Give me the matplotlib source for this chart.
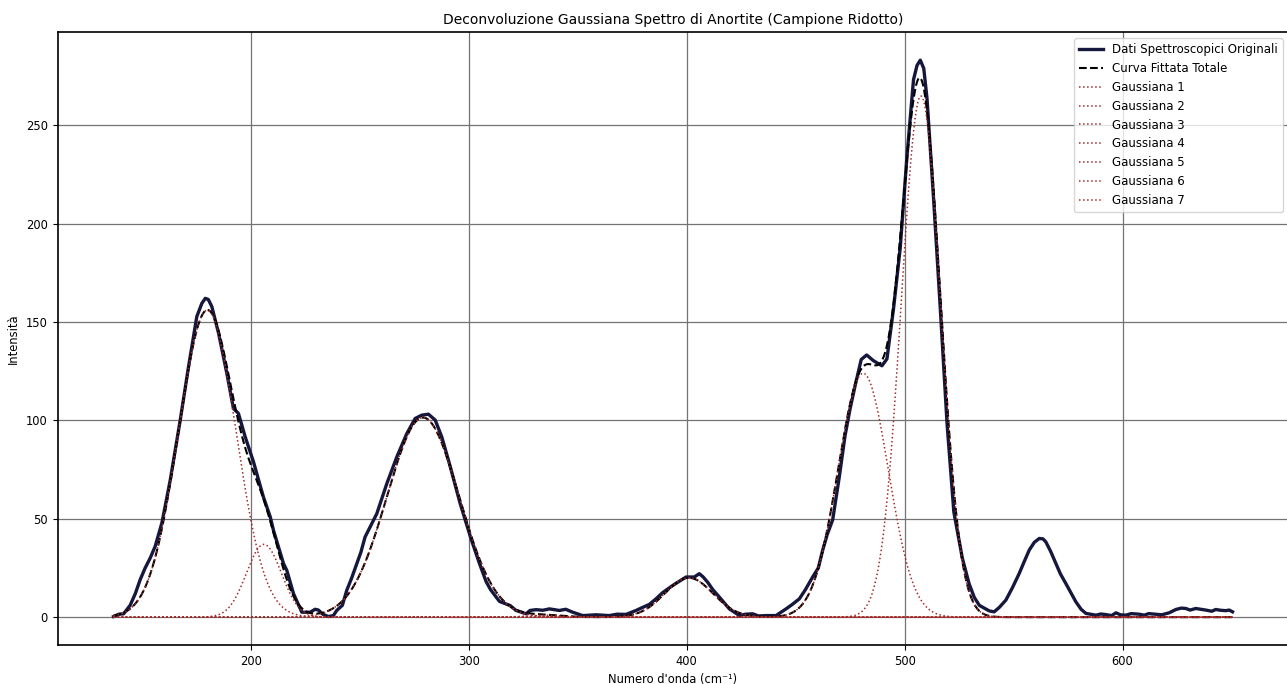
import numpy as np
import matplotlib
matplotlib.use("Agg")
import matplotlib.pyplot as plt

# Spectrum (cm^-1, intensity)
wavenumber = [
    137.0, 139.5, 141.6, 144.6, 147.0, 149.2, 151.5, 153.8, 156.1, 159.2,
    163.0, 167.6, 171.4, 175.2, 177.5, 179.1, 180.5, 182.1, 185.2, 189.0,
    192.0, 194.3, 197.4, 201.2, 205.8, 208.9, 210.4, 215.0, 216.5, 219.6,
    223.4, 227.2, 229.5, 231.0, 233.0, 235.6, 237.9, 239.4, 242.0, 244.0,
    246.3, 248.6, 250.5, 252.4, 255.5, 257.8, 262.4, 267.0, 271.6, 275.4,
    278.4, 281.5, 284.6, 287.6, 291.4, 296.0, 301.0, 305.0, 308.0, 310.0,
    314.1, 319.0, 321.7, 326.3, 328.1, 330.9, 334.0, 337.0, 341.6, 344.5,
    347.7, 352.3, 358.4, 364.5, 368.0, 372.2, 376.8, 378.3, 382.9, 385.9,
    389.0, 393.6, 397.0, 399.7, 403.5, 405.8, 407.5, 409.6, 412.0, 415.0,
    419.6, 424.2, 427.0, 430.3, 433.0, 436.4, 441.0, 445.6, 448.5, 451.7,
    454.5, 457.8, 460.4, 462.4, 464.5, 467.0, 470.0, 472.7, 475.0, 477.3,
    480.1, 482.6, 485.7, 489.6, 491.9, 494.9, 498.0, 501.1, 504.1, 505.7,
    507.2, 508.8, 510.3, 513.4, 516.4, 519.5, 522.6, 526.5, 529.6, 532.0,
    534.3, 538.8, 541.1, 543.5, 546.5, 549.5, 552.6, 555.0, 557.2, 559.5,
    561.8, 563.5, 564.8, 567.0, 569.4, 571.5, 574.0, 576.5, 578.6, 581.0,
    583.2, 587.8, 590.0, 592.4, 595.0, 597.0, 599.0, 601.5, 604.0, 607.6,
    610.0, 612.0, 615.3, 618.0, 621.4, 624.5, 627.0, 629.1, 631.0, 633.6,
    636.0, 638.2, 641.0, 642.8, 645.0, 647.4, 649.0, 650.5,
]
intensity = [
    0.3, 1.5, 1.7, 6.0, 12.0, 19.0, 25.0, 30.0, 36.0, 48.0,
    69.6, 100.2, 127.3, 152.8, 159.5, 162.1, 161.5, 157.9, 144.3, 123.9,
    106.1, 103.6, 91.7, 79.0, 61.0, 51.0, 44.1, 27.2, 23.8, 11.9,
    2.5, 2.5, 4.0, 3.6, 1.5, 0.3, 0.8, 3.4, 6.0, 13.6,
    20.0, 27.2, 33.0, 40.7, 47.5, 52.6, 67.9, 81.5, 93.4, 101.0,
    102.7, 103.2, 100.2, 91.7, 77.0, 58.0, 40.0, 27.0, 18.0, 14.0,
    8.0, 5.9, 3.4, 1.7, 3.4, 3.8, 3.5, 4.2, 3.4, 4.0,
    2.5, 0.8, 1.2, 0.8, 1.5, 1.4, 3.4, 4.2, 6.5, 9.3,
    12.5, 16.1, 18.5, 20.4, 20.4, 22.1, 20.5, 17.8, 14.0, 10.2,
    4.2, 0.8, 1.5, 1.7, 0.6, 0.8, 0.8, 4.2, 6.5, 9.3,
    14.0, 20.4, 25.0, 34.0, 42.0, 49.5, 71.0, 92.4, 106.0, 117.7,
    131.0, 133.3, 130.4, 127.8, 131.3, 156.6, 187.7, 234.4, 273.3, 280.5,
    283.2, 279.0, 263.6, 211.0, 156.6, 98.2, 53.5, 30.0, 17.0, 10.0,
    6.0, 3.2, 2.7, 5.0, 8.7, 15.0, 22.2, 28.5, 34.1, 38.0,
    40.0, 39.8, 38.3, 33.5, 27.3, 22.0, 17.1, 12.0, 7.8, 4.0,
    1.9, 1.0, 1.6, 1.3, 0.8, 2.2, 1.2, 1.0, 1.8, 1.5,
    1.0, 1.8, 1.5, 1.2, 2.2, 3.9, 4.6, 4.4, 3.6, 4.4,
    4.0, 3.6, 3.0, 3.9, 3.5, 3.3, 3.6, 2.7,
]

# Fitted gaussian components (amplitude, centre, sigma)
gauss_amp = [156.0, 37.0, 101.5, 20.0, 124.0, 265.0, 1.0]
gauss_center = [180.0, 206.0, 279.0, 401.0, 481.0, 507.5, 335.0]
gauss_sigma = [13.2, 8.0, 16.5, 11.0, 11.5, 9.0, 8.0]

plt.rcParams["font.size"] = 8.3

x_fit = np.linspace(wavenumber[0], wavenumber[-1], 1500)
components = [a * np.exp(-(x_fit - c) ** 2 / (2 * s ** 2))
              for a, c, s in zip(gauss_amp, gauss_center, gauss_sigma)]
total_fit = np.sum(components, axis=0)

fig = plt.figure(figsize=(12.87, 6.84), dpi=100)
ax = fig.add_axes([57.6 / 1287, 1 - 645 / 684, (1288.5 - 57.6) / 1287, (645 - 32.3) / 684])

ax.plot(wavenumber, intensity, color="#16173d", linewidth=2.4,
        label="Dati Spettroscopici Originali")
ax.plot(x_fit, total_fit, color="black", linestyle="--", linewidth=1.5,
        label="Curva Fittata Totale")
for i, comp in enumerate(components):
    ax.plot(x_fit, comp, color="brown", linestyle=":", linewidth=1.1,
            label=f"Gaussiana {i + 1}")

ax.set_title("Deconvoluzione Gaussiana Spettro di Anortite (Campione Ridotto)",
             fontsize=10, pad=6)
ax.set_xlabel("Numero d'onda (cm⁻¹)")
ax.set_ylabel("Intensità")
ax.set_xticks([200, 300, 400, 500, 600])
ax.set_yticks([0, 50, 100, 150, 200, 250])
ax.grid(True, color="0.45", linewidth=0.9)
for sp in ax.spines.values():
    sp.set_linewidth(1.2)

ax.legend(loc="upper right", fontsize=8.5)

fig.savefig("out.png", dpi=100)
